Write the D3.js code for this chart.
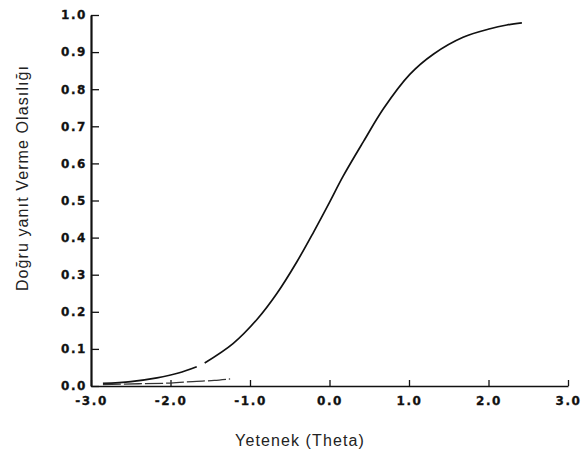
<!DOCTYPE html>
<html>
<head>
<meta charset="utf-8">
<script src="https://cdn.jsdelivr.net/npm/d3@7"></script>
<style>
  body { margin: 0; background: #fff; }
  .tick text { font-family: "DejaVu Sans", sans-serif; font-weight: bold; font-size: 12px; letter-spacing: 1.6px; fill: #111; stroke: #111; stroke-width: 0.3px; }
  .title { font-family: "Liberation Sans", Arial, sans-serif; font-size: 16px; fill: #222; letter-spacing: 1.1px; }
</style>
</head>
<body>
<div id="graphDiv"></div>
<script>
// ability values (theta) and probability of a correct answer
var theta = [-2.85, -2.5, -2.17, -1.9, -1.67, null, -1.57, -1.21, -0.91, -0.66, -0.41, -0.2, 0.0, 0.17, 0.43, 0.68, 1.01, 1.31, 1.68, 2.02, 2.23, 2.42];
var prob  = [0.007, 0.012, 0.022, 0.035, 0.052, null, 0.062, 0.115, 0.180, 0.250, 0.335, 0.415, 0.495, 0.565, 0.660, 0.748, 0.840, 0.895, 0.940, 0.963, 0.973, 0.979];

// faint second trace near the bottom of the scan
var theta2 = [-2.85, -2.4, -2.0, -1.72, -1.45, -1.25];
var prob2  = [0.004, 0.006, 0.008, 0.012, 0.015, 0.019];

var xTicks = [-3, -2, -1, 0, 1, 2, 3];
var xTickLabels = ["-3.0", "-2.0", "-1.0", "0.0", "1.0", "2.0", "3.0"];
var yTicks = [0, 0.1, 0.2, 0.3, 0.4, 0.5, 0.6, 0.7, 0.8, 0.9, 1.0];
var yTickLabels = ["0.0", "0.1", "0.2", "0.3", "0.4", "0.5", "0.6", "0.7", "0.8", "0.9", "1.0"];

var margin = {top: 15, right: 14, bottom: 75, left: 91},
width = 582 - margin.left - margin.right,
height = 461 - margin.top - margin.bottom;

var svg = d3.select("#graphDiv")
.append("svg")
.attr("width", width + margin.left + margin.right)
.attr("height", height + margin.top + margin.bottom)
.append("g")
.attr("transform", "translate(" + margin.left + "," + margin.top + ")");

var x = d3.scaleLinear().domain([-3, 3]).range([0, width]);
var y = d3.scaleLinear().domain([0, 1]).range([height, 0]);

// X axis, ticks pointing up into the plot
var gx = svg.append("g")
.attr("transform", "translate(0," + height + ")")
.call(d3.axisBottom(x)
  .tickValues(xTicks)
  .tickFormat(function(d, i) { return xTickLabels[i]; })
  .tickSizeInner(-6).tickSizeOuter(0).tickPadding(10));
gx.select(".domain").attr("stroke", "#111").attr("stroke-width", 1.6);
gx.selectAll(".tick line").attr("stroke", "#111").attr("stroke-width", 1.3);

// Y axis, ticks pointing right
var gy = svg.append("g")
.call(d3.axisLeft(y)
  .tickValues(yTicks)
  .tickFormat(function(d, i) { return yTickLabels[i]; })
  .tickSizeInner(-8).tickSizeOuter(0).tickPadding(4));
gy.select(".domain").attr("stroke", "#111").attr("stroke-width", 2.2);
gy.selectAll(".tick line").attr("stroke", "#111").attr("stroke-width", 1.3);

// curves
var line = d3.line()
.defined(function(d) { return d[0] !== null; })
.x(function(d) { return x(d[0]); })
.y(function(d) { return y(d[1]); })
.curve(d3.curveCatmullRom);

svg.append("path")
.datum(theta.map(function(t, i) { return [t, prob[i]]; }))
.attr("fill", "none")
.attr("stroke", "#111")
.attr("stroke-width", 1.7)
.attr("d", line);

svg.append("path")
.datum(theta2.map(function(t, i) { return [t, prob2[i]]; }))
.attr("fill", "none")
.attr("stroke", "#333")
.attr("stroke-width", 1.3)
.attr("stroke-dasharray", "18,3")
.attr("d", line);

// axis titles
svg.append("text")
.attr("class", "title")
.attr("x", 300 - margin.left)
.attr("y", 446 - margin.top)
.attr("text-anchor", "middle")
.text("Yetenek (Theta)");

svg.append("text")
.attr("class", "title")
.attr("transform", "translate(" + (28 - margin.left) + "," + (178 - margin.top) + ")rotate(-90)")
.attr("text-anchor", "middle")
.text("Doğru yanıt Verme Olasılığı");
</script>
</body>
</html>
